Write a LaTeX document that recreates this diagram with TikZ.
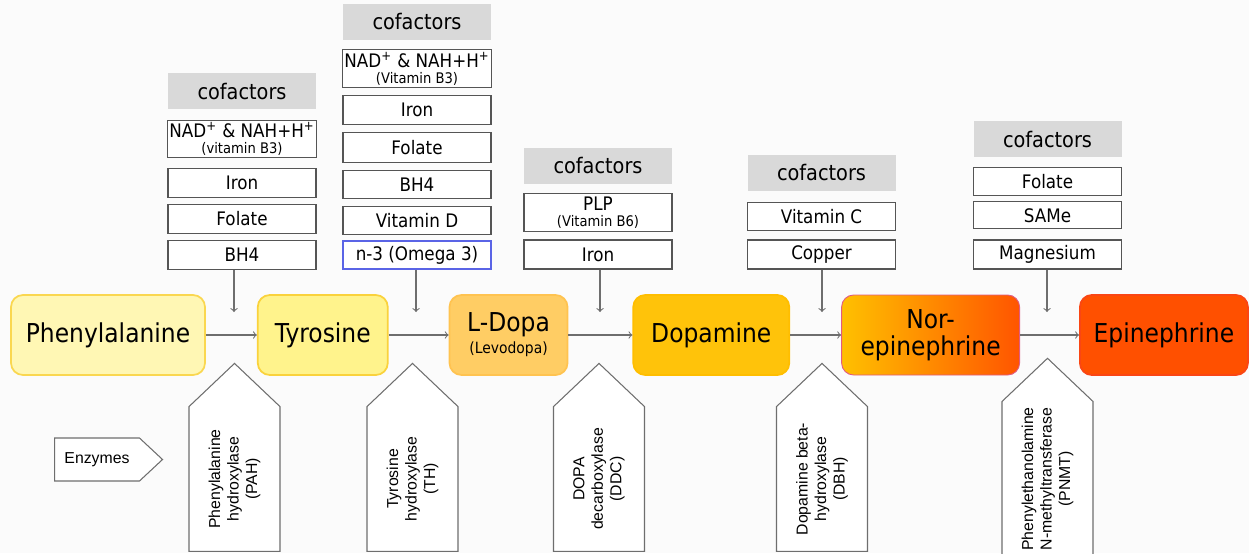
\documentclass[tikz,border=0pt]{standalone}
\usepackage{fontspec}
\setmainfont[FakeStretch=0.9]{DejaVu Sans}
\newfontfamily\enzfont{Liberation Sans}
\usetikzlibrary{arrows,positioning,shapes.symbols}

\definecolor{bg}{RGB}{251,251,251}
\definecolor{linegray}{RGB}{110,110,110}
\definecolor{boxgray}{RGB}{85,85,85}
\definecolor{headgray}{RGB}{217,217,217}
\definecolor{omega}{RGB}{90,100,230}
\definecolor{f1}{RGB}{255,247,180}
\definecolor{d1}{RGB}{250,215,80}
\definecolor{f2}{RGB}{255,243,140}
\definecolor{d2}{RGB}{250,210,60}
\definecolor{f3}{RGB}{255,205,100}
\definecolor{d3}{RGB}{255,195,80}
\definecolor{f4}{RGB}{255,195,10}
\definecolor{d4}{RGB}{255,190,0}
\definecolor{f5a}{RGB}{255,192,0}
\definecolor{f5b}{RGB}{255,85,0}
\definecolor{d5}{RGB}{225,90,130}
\definecolor{f6}{RGB}{255,80,0}
\definecolor{d6}{RGB}{250,70,20}

\begin{document}
\begin{tikzpicture}[->, line width=0.6pt,
  main/.style = {draw, rounded corners=0.24cm, minimum height=1.6cm, line width=1pt, align=center, font=\fontsize{14.8}{15.5}\selectfont},
  cof/.style = {draw=boxgray, fill=white, minimum width=2.96cm, minimum height=0.58cm, inner sep=1pt, align=center, font=\fontsize{10.6}{12}\selectfont},
  head/.style = {fill=headgray, minimum width=2.96cm, minimum height=0.72cm, font=\fontsize{12.2}{14}\selectfont},
  enz/.style = {draw=linegray, fill=white, shape=signal, signal from=nowhere, signal to=east, signal pointer angle=93, rotate=90, minimum width=3.76cm, minimum height=1.82cm, align=center, font=\enzfont\fontsize{9}{10.5}\selectfont},
  enzlabel/.style = {draw=linegray, fill=white, shape=signal, signal from=nowhere, signal to=east, signal pointer angle=86, minimum width=2.16cm, minimum height=0.86cm, font=\enzfont\fontsize{9}{10.5}\selectfont},
  every edge/.append style = {draw=linegray}]

\fill[bg, -] (0,0) rectangle (24.98,-11.06);
\useasboundingbox (0,0) rectangle (24.98,-11.06);

% pathway
\node[main, fill=f1, draw=d1, minimum width=3.88cm] (1) at (2.16,-6.7) {Phenylalanine};
\node[main, fill=f2, draw=d2, minimum width=2.6cm, right=1.02cm of 1] (2) {Tyrosine};
\node[main, fill=f3, draw=d3, minimum width=2.36cm, right=1.2cm of 2] (3) {L-Dopa\\[-3pt]{\fontsize{8.8}{10}\selectfont (Levodopa)}};
\node[main, fill=f4, draw=d4, minimum width=3.12cm, right=1.28cm of 3] (4) {Dopamine};
\node[main, left color=f5a, right color=f5b, draw=d5, line width=0.5pt, minimum width=3.56cm, right=1.02cm of 4] (5) {Nor-\\epinephrine};
\node[main, fill=f6, draw=d6, minimum width=3.36cm, right=1.18cm of 5] (6) {Epinephrine};

\path (1) edge (2);
\path (2) edge (3);
\path (3) edge (4);
\path (4) edge (5);
\path (5) edge (6);

% cofactors
\node[cof] (a4) at (4.84,-5.1) {BH4};
\node[cof, above=0.12cm of a4] (a3) {Folate};
\node[cof, above=0.12cm of a3] (a2) {Iron};
\node[cof, above=0.2cm of a2, minimum height=0.74cm] (a1) {NAD\textsuperscript{+} \& NAH+H\textsuperscript{+}\\[-3pt]{\fontsize{8.3}{9}\selectfont (vitamin B3)}};
\node[head, above=0.2cm of a1] (a0) {cofactors};

\node[cof, draw=omega, minimum height=0.56cm] (b6) at (8.34,-5.1) {n-3 (Omega 3)};
\node[cof, above=0.1cm of b6, minimum height=0.56cm] (b5) {Vitamin D};
\node[cof, above=0.14cm of b5, minimum height=0.56cm] (b4) {BH4};
\node[cof, above=0.14cm of b4, minimum height=0.6cm] (b3) {Folate};
\node[cof, above=0.14cm of b3, minimum height=0.58cm] (b2) {Iron};
\node[cof, above=0.14cm of b2, minimum height=0.76cm] (b1) {NAD\textsuperscript{+} \& NAH+H\textsuperscript{+}\\[-3pt]{\fontsize{8.3}{9}\selectfont (Vitamin B3)}};
\node[head, above=0.18cm of b1] (b0) {cofactors};

\node[cof] (c2) at (11.96,-5.09) {Iron};
\node[cof, above=0.15cm of c2, minimum height=0.76cm] (c1) {PLP\\[-3pt]{\fontsize{8.3}{9}\selectfont (Vitamin B6)}};
\node[head, above=0.17cm of c1] (c0) {cofactors};

\node[cof] (d2) at (16.43,-5.09) {Copper};
\node[cof, above=0.17cm of d2, minimum height=0.56cm] (d1) {Vitamin C};
\node[head, above=0.21cm of d1] (d0) {cofactors};

\node[cof] (g3) at (20.95,-5.09) {Magnesium};
\node[cof, above=0.2cm of g3, minimum height=0.54cm] (g2) {SAMe};
\node[cof, above=0.1cm of g2, minimum height=0.56cm] (g1) {Folate};
\node[head, above=0.19cm of g1] (g0) {cofactors};

\coordinate (t1) at (4.68,-6.24);
\coordinate (t2) at (8.32,-6.24);
\coordinate (t3) at (12.0,-6.24);
\coordinate (t4) at (16.44,-6.24);
\coordinate (t5) at (20.94,-6.24);
\draw[linegray] (a4.south -| t1) -- (t1);
\draw[linegray] (b6.south -| t2) -- (t2);
\draw[linegray] (c2.south -| t3) -- (t3);
\draw[linegray] (d2.south -| t4) -- (t4);
\draw[linegray] (g3.south -| t5) -- (t5);

% enzymes
\node[enzlabel] (e0) at (1.94,-9.19) {Enzymes};
\node[enz] (e1) at (4.69,-9.58) {Phenylalanine\\hydroxylase\\(PAH)};
\node[enz] (e2) at (8.25,-9.58) {Tyrosine\\hydroxylase\\(TH)};
\node[enz] (e3) at (11.98,-9.58) {DOPA\\decarboxylase\\(DDC)};
\node[enz] (e4) at (16.44,-9.58) {Dopamine beta-\\hydroxylase\\(DBH)};
\node[enz] (e5) at (20.95,-9.58) {Phenylethanolamine\\N-methyltransferase\\(PNMT)};

\end{tikzpicture}
\end{document}
